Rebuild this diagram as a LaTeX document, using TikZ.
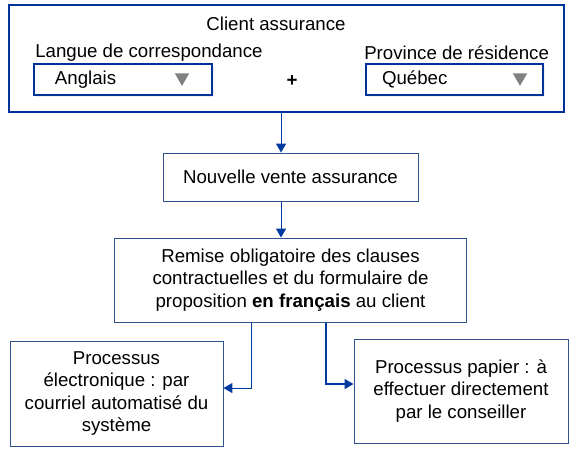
\documentclass[tikz,border=0pt]{standalone}
\usepackage{fontspec}
\setmainfont{Liberation Sans}
\usetikzlibrary{shapes,positioning,arrows,shadows}
\definecolor{boxcolor}{RGB}{47,82,143}
\definecolor{framecolor}{RGB}{0,51,153}
\definecolor{linkcolor}{RGB}{0,60,160}
\definecolor{tipcolor}{RGB}{128,128,128}

\begin{document}
\begin{tikzpicture}[%
    >=triangle 60,              % small filled tips
    x=0.75pt, y=-0.75pt,        % one unit is one pixel of the sketch
    font=\fontsize{14pt}{16.8pt}\selectfont,
    ]
\tikzset{
  base/.style={draw, rectangle, align=center, inner sep=0pt},
  frame/.style={base, draw=framecolor, line width=0.85pt, minimum width=416.25pt, minimum height=80.25pt},
  combo/.style={base, draw=framecolor, line width=0.85pt, align=left, minimum height=23.25pt, fill=white,
    drop shadow={opacity=0.12, shadow xshift=1.5pt, shadow yshift=-1.5pt}},
  proc/.style={base, draw=boxcolor, line width=0.75pt},
  caption/.style={inner sep=0pt, anchor=west},
  tip/.style={regular polygon, regular polygon sides=3, shape border rotate=180,
    fill=tipcolor, inner sep=0pt, minimum size=12.5pt},
  norm/.style={->, draw=linkcolor, line width=0.8pt},
}
\useasboundingbox (0,0) rectangle (576,455);

\node [frame] (p0) at (286.5,58.5) {};
\node (p0t) at (276,24) {Client assurance};
\node [caption] (p1t) at (35,53) {Langue de correspondance};
\node [caption] (p2t) at (364,53) {Province de résidence};

\node [combo, text width=102pt, inner xsep=15.75pt] (p1) at (123,79.5) {Anglais};
\node [tip] (p1a) at (182,77.5) {};
\node [font=\fontsize{14pt}{16.8pt}\selectfont\bfseries] (p3) at (292,81) {+};
\node [combo, text width=108.75pt, inner xsep=12pt] (p2) at (454.5,79.5) {Québec};
\node [tip] (p2a) at (520,77.5) {};

\node [proc, minimum width=191.25pt, minimum height=36pt] (p4) at (290.5,177) {Nouvelle vente assurance};
\node [proc, below=27pt of p4, minimum width=264pt, minimum height=63pt] (p5)
  {Remise obligatoire des clauses\\contractuelles et du formulaire de\\proposition \textbf{en français} au client};
\node [proc, minimum width=159.75pt, minimum height=78.75pt] (p6) at (116.5,393.5)
  {Processus\\électronique : par\\courriel automatisé du\\système};
\node [proc, minimum width=160.5pt, minimum height=78pt] (p7) at (461,391)
  {Processus papier : à\\effectuer directement\\par le conseiller};

%connect
\draw [norm] ([xshift=-7.1pt]p4.north |- p0.south) -- ([xshift=-7.1pt]p4.north);
\draw [norm] ([xshift=-7.1pt]p4.south) -- ([xshift=-7.1pt]p4.south |- p5.north);
\draw [norm] ([xshift=-29.6pt]p5.south) |- ([yshift=4.1pt]p6.east);
\draw [norm] ([xshift=26.6pt]p5.south) |- ([yshift=5.25pt]p7.west);

\end{tikzpicture}
\end{document}
